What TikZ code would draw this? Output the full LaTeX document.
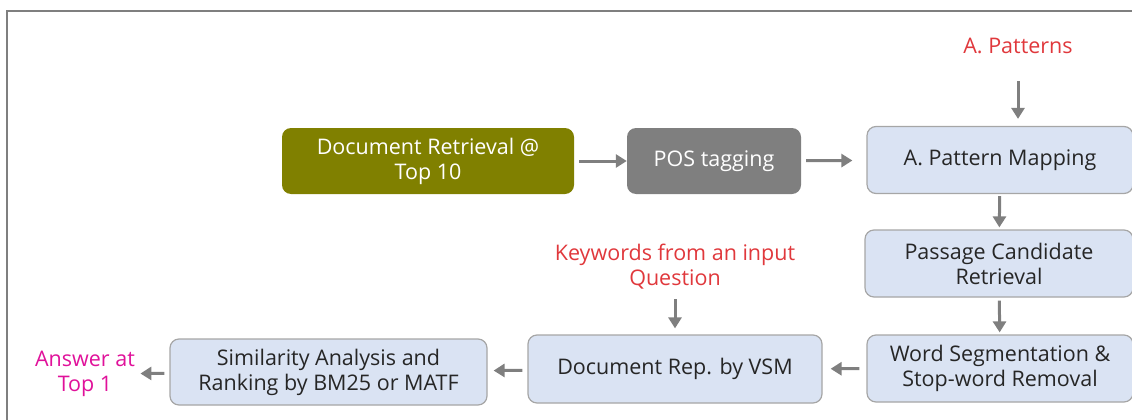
\documentclass[tikz,border=0pt]{standalone}
\usepackage{fontspec}
\setmainfont{Open Sans}
\usetikzlibrary{arrows.meta}
\definecolor{olivebox}{HTML}{808000}
\definecolor{posgray}{HTML}{7F7F7F}
\definecolor{lightbox}{HTML}{DAE3F3}
\definecolor{boxline}{HTML}{A6A6A6}
\definecolor{inred}{HTML}{E0383C}
\definecolor{outpink}{HTML}{E0119A}
\begin{document}
\begin{tikzpicture}[x=1pt,y=-1pt,
  font=\fontsize{21.5}{25}\selectfont,
  stepbox/.style={draw=boxline,line width=1.2pt,fill=lightbox,rounded corners=9pt,
    align=center,text=black!85,inner sep=0pt},
  darkbox/.style={rounded corners=9pt,align=center,text=white,inner sep=0pt},
  flow/.style={posgray,line width=3pt,-{Triangle[length=11pt,width=13pt]},shorten <=5pt,shorten >=6pt}]
\useasboundingbox (0,0) rectangle (1132,420);
\draw[posgray,line width=1.6pt] (7,430) -- (7,11) -- (1140,11);

\node[darkbox,fill=olivebox,minimum width=292pt,minimum height=66pt] (docret) at (428,161) {Document Retrieval @\\Top 10};
\node[darkbox,fill=posgray,minimum width=174pt,minimum height=66pt] (pos) at (714,161) {POS tagging};
\node[stepbox,minimum width=266pt,minimum height=67pt] (patmap) at (1000,160) {A. Pattern Mapping};
\node[stepbox,minimum width=268pt,minimum height=67pt] (passage) at (999,263.5) {Passage Candidate\\Retrieval};
\node[stepbox,minimum width=266pt,minimum height=67pt] (wordseg) at (1000,368.5) {Word Segmentation \&\\Stop-word Removal};
\node[stepbox,minimum width=294pt,minimum height=68pt] (docrep) at (675,369) {Document Rep. by VSM};
\node[stepbox,minimum width=317pt,minimum height=66pt] (sim) at (328.5,372) {Similarity Analysis and\\Ranking by BM25 or MATF};

\node[text=inred] (patterns) at (1018,46) {A. Patterns};
\node[text=inred,align=center] (keywords) at (675,267) {Keywords from an input\\Question};
\node[text=outpink,align=center] (answer) at (85,374) {Answer at\\Top 1};

\draw[flow,shorten >=0pt] (docret) -- (pos);
\draw[flow,shorten >=14pt] (pos) -- (patmap);
\draw[flow,shorten <=24pt,shorten >=7pt] (patterns) -- (patterns |- patmap.north);
\draw[flow,shorten <=2pt,shorten >=2pt] (patmap) -- (passage);
\draw[flow,shorten <=3pt,shorten >=2pt] (passage) -- (wordseg);
\draw[flow,shorten <=7pt,shorten >=8pt] (wordseg) -- (docrep);
\draw[flow,shorten <=6pt,shorten >=6pt] (keywords) -- (keywords |- docrep.north);
\draw[flow] (docrep) -- (sim);
\draw[flow,shorten >=2pt] (sim) -- (answer);
\end{tikzpicture}
\end{document}
